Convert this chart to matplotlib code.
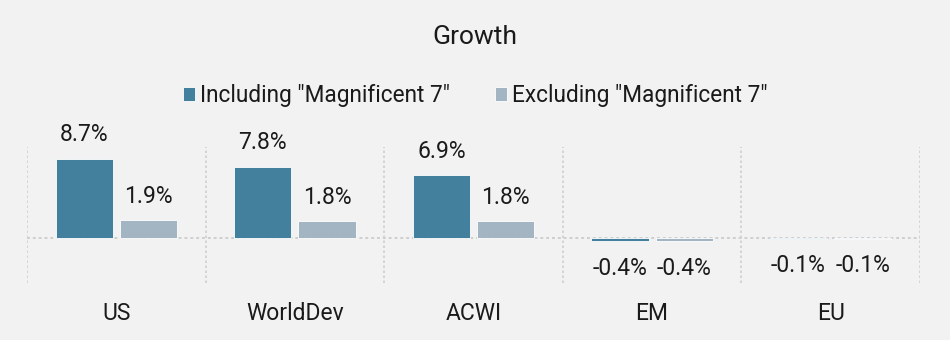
import matplotlib
matplotlib.use("Agg")
import matplotlib.pyplot as plt
import numpy as np

plt.rcParams["font.family"] = ["Roboto", "DejaVu Sans"]

categories = ["US", "WorldDev", "ACWI", "EM", "EU"]
including = [8.7, 7.8, 6.9, -0.4, -0.1]
excluding = [1.9, 1.8, 1.8, -0.4, -0.1]
series_names = ['Including "Magnificent 7"', 'Excluding "Magnificent 7"']

c_inc = "#42809e"
c_exc = "#a3b4c2"
bg = "#f2f2f2"
txt = "#1a1a1a"
fs = 16.5

fig = plt.figure(figsize=(9.5, 3.4), dpi=100, facecolor=bg)
ax = fig.add_axes([0.0284, 0.1676, 0.94, 0.40])
ax.set_facecolor(bg)

x = np.arange(len(categories))
w = 0.32
off = 0.18
b1 = ax.bar(x - off, including, w, color=c_inc, edgecolor="white", linewidth=0.6,
            label=series_names[0], zorder=3)
b2 = ax.bar(x + off, excluding, w, color=c_exc, edgecolor="white", linewidth=0.6,
            label=series_names[1], zorder=3)

# value labels
for bars, vals in ((b1, including), (b2, excluding)):
    for rect, v in zip(bars, vals):
        cx = rect.get_x() + rect.get_width() / 2
        if v >= 0:
            ax.annotate(f"{v:.1f}%", (cx, v), xytext=(0, 9), textcoords="offset points",
                        ha="center", va="bottom", fontsize=fs, color=txt)
        else:
            ax.annotate(f"{v:.1f}%", (cx, v), xytext=(0, -11), textcoords="offset points",
                        ha="center", va="top", fontsize=fs, color=txt)

ax.set_xlim(-0.5, len(categories) - 0.5)
ax.set_ylim(-5, 10)

# category separators and zero line
for b in np.arange(-0.5, len(categories), 1.0):
    ax.axvline(b, color="#cfcfcf", linestyle=(0, (1.5, 1.5)), linewidth=1.2, zorder=1)
ax.axhline(0, color="#cfcfcf", linestyle=(0, (1.5, 1.5)), linewidth=1.4, zorder=2)

for s in ax.spines.values():
    s.set_visible(False)
ax.set_yticks([])
ax.set_xticks(x)
ax.set_xticklabels(categories, fontsize=fs, color=txt)
ax.tick_params(axis="x", length=0, pad=14)

fig.suptitle("Growth", y=0.927, fontsize=19, color=txt)
fig.legend(handles=[b1, b2], loc="center", bbox_to_anchor=(0.5, 0.72), ncol=2,
           frameon=False, fontsize=16.3, handlelength=0.55, handleheight=0.55,
           handletextpad=0.2, columnspacing=2.0, labelcolor=txt)

fig.savefig("out.png", dpi=100, facecolor=bg)
